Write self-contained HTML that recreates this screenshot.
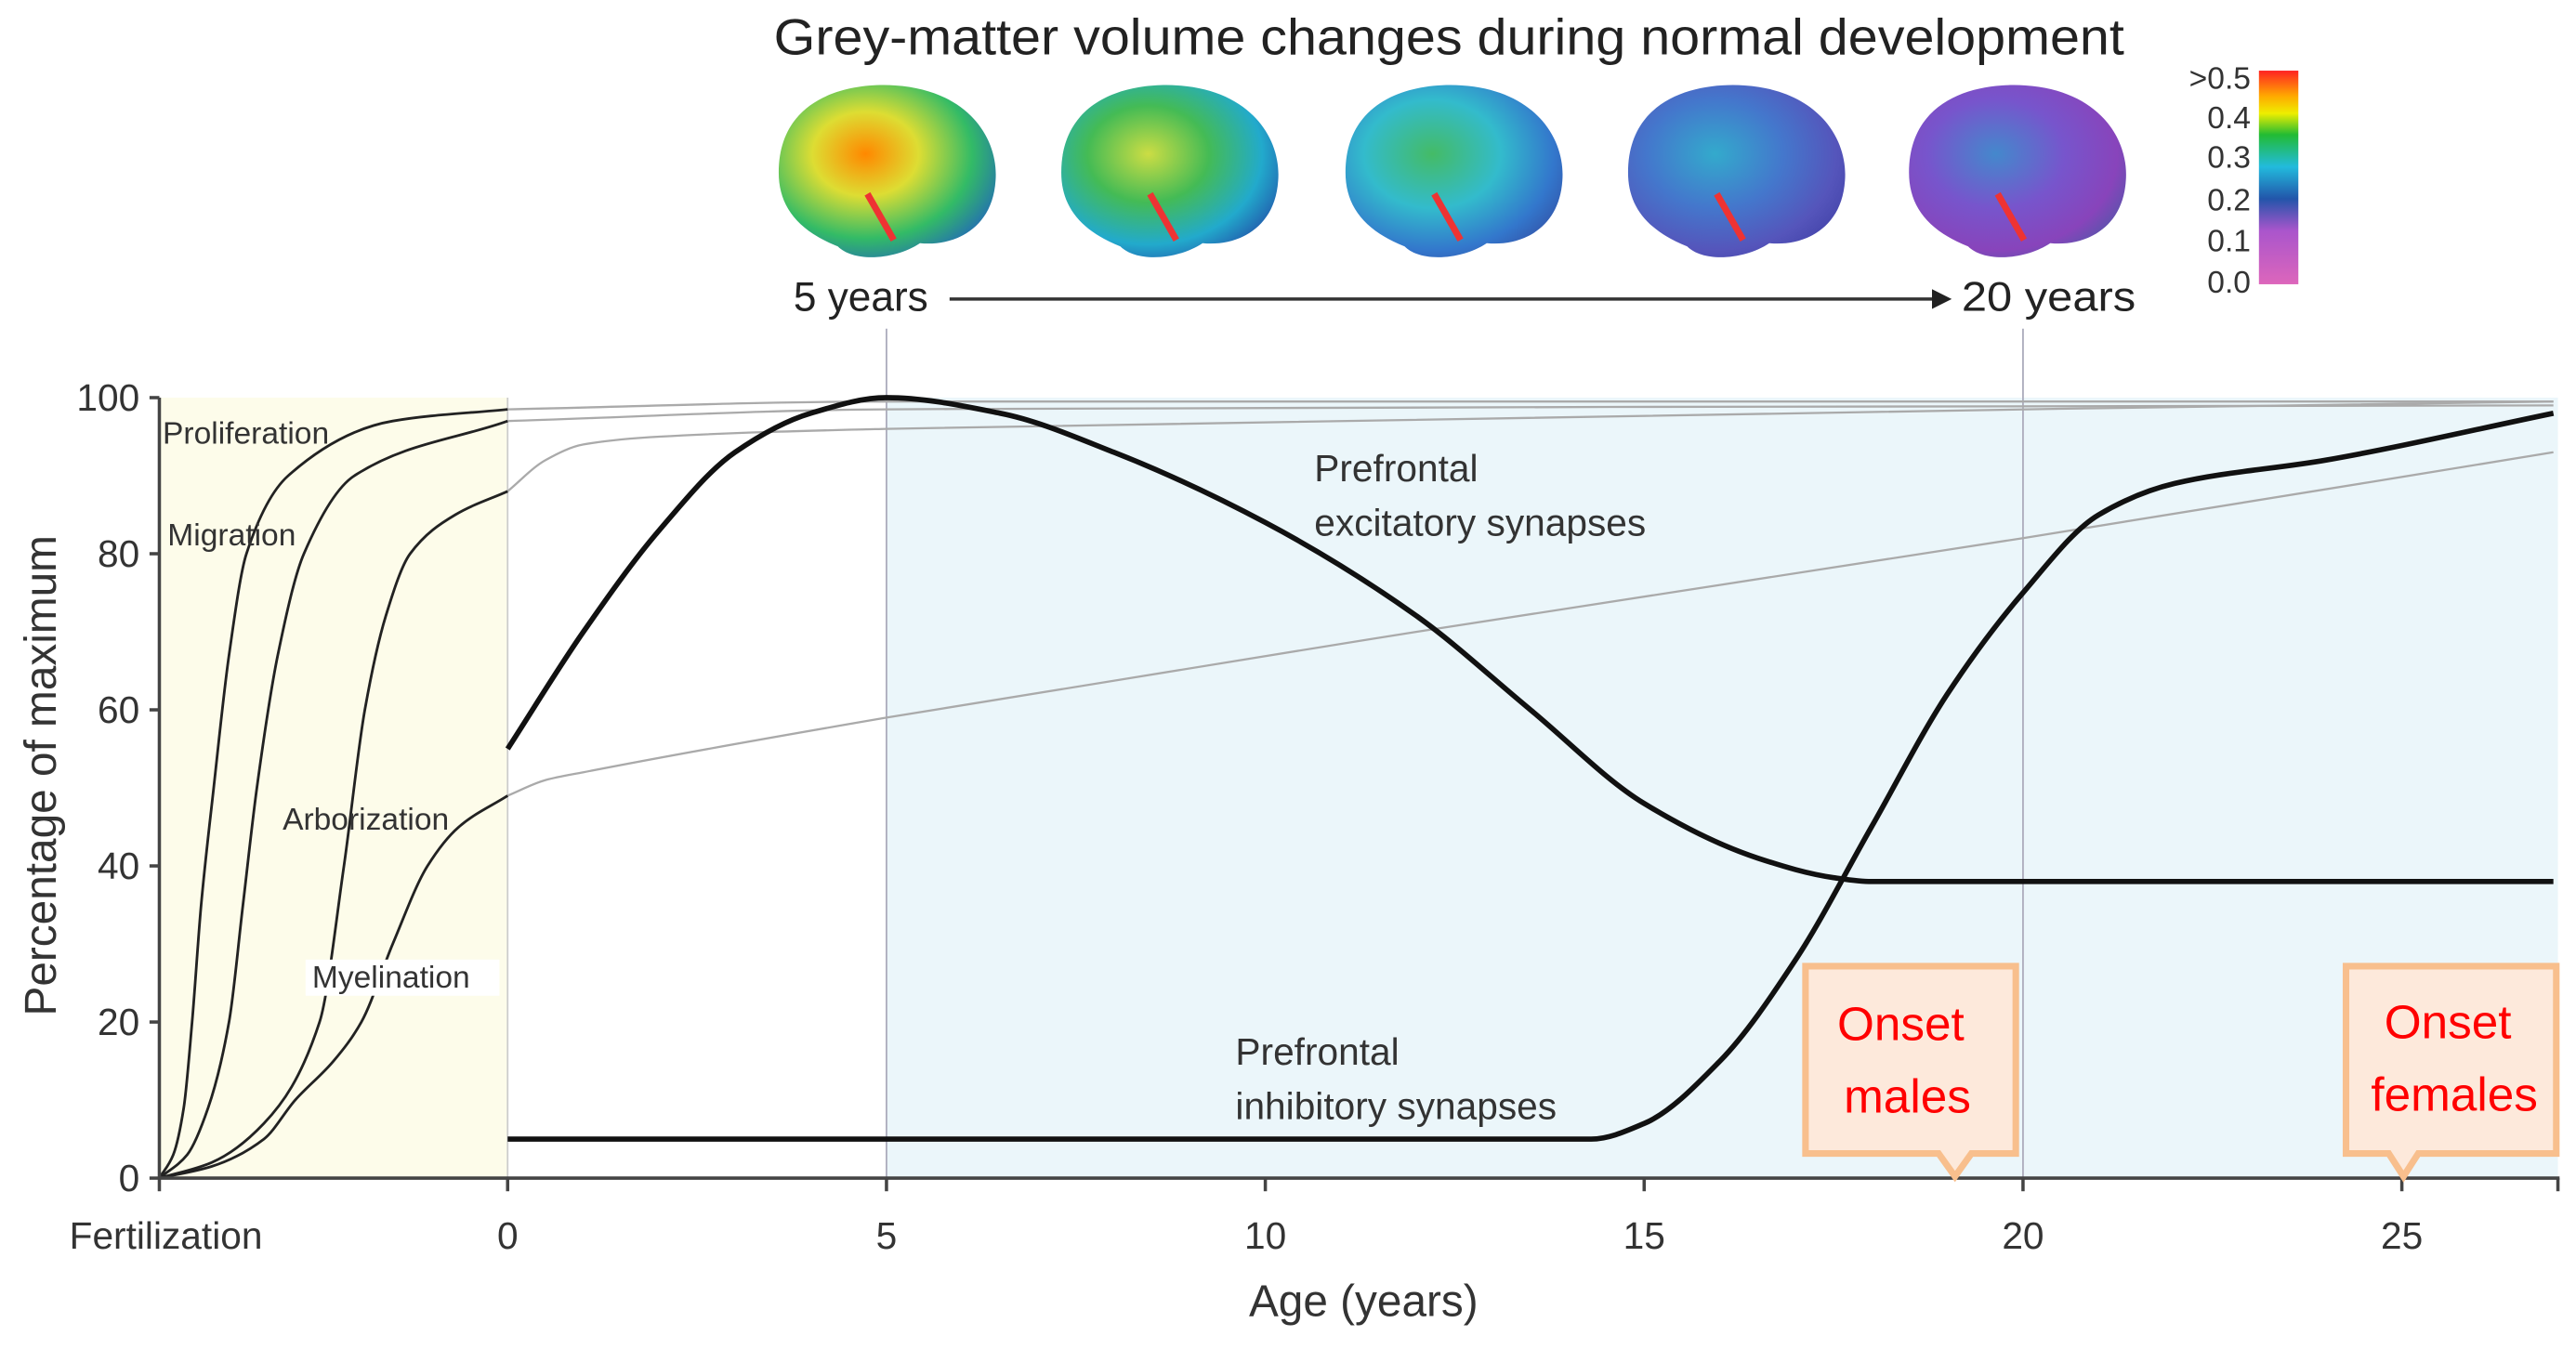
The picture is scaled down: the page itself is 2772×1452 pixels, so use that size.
<!DOCTYPE html>
<html><head><meta charset="utf-8"><style>
html,body{margin:0;padding:0;background:#fff;}
svg{display:block;}
text{font-family:"Liberation Sans",sans-serif;}
</style></head><body>
<svg id="chart" width="2772" height="1452" viewBox="0 0 1568 821" preserveAspectRatio="none" xmlns="http://www.w3.org/2000/svg">
<defs>
<linearGradient id="cbar" x1="0" y1="0" x2="0" y2="1">
<stop offset="0" stop-color="#f22"/><stop offset="0.12" stop-color="#fa0"/><stop offset="0.2" stop-color="#ee0"/><stop offset="0.3" stop-color="#2b3"/><stop offset="0.45" stop-color="#2bd"/><stop offset="0.6" stop-color="#25a"/><stop offset="0.75" stop-color="#a5c"/><stop offset="1" stop-color="#d6b"/>
</linearGradient>
<radialGradient id="b0" cx="0.4" cy="0.4" r="0.7"><stop offset="0" stop-color="#f80"/><stop offset="0.35" stop-color="#dd3"/><stop offset="0.7" stop-color="#3b6"/><stop offset="1" stop-color="#26b"/></radialGradient>
<radialGradient id="b1" cx="0.4" cy="0.4" r="0.7"><stop offset="0" stop-color="#cd4"/><stop offset="0.4" stop-color="#4b5"/><stop offset="0.75" stop-color="#2ac"/><stop offset="1" stop-color="#25a"/></radialGradient>
<radialGradient id="b2" cx="0.4" cy="0.4" r="0.7"><stop offset="0" stop-color="#4b6"/><stop offset="0.45" stop-color="#3bc"/><stop offset="0.8" stop-color="#37c"/><stop offset="1" stop-color="#35a"/></radialGradient>
<radialGradient id="b3" cx="0.4" cy="0.4" r="0.7"><stop offset="0" stop-color="#3ac"/><stop offset="0.45" stop-color="#47c"/><stop offset="0.8" stop-color="#55b"/><stop offset="1" stop-color="#44a"/></radialGradient>
<radialGradient id="b4" cx="0.4" cy="0.4" r="0.7"><stop offset="0" stop-color="#48c"/><stop offset="0.45" stop-color="#75c"/><stop offset="0.8" stop-color="#84b"/><stop offset="1" stop-color="#55a"/></radialGradient>
</defs>

<text x="882" y="33" text-anchor="middle" font-size="31" fill="#222" textLength="822" lengthAdjust="spacingAndGlyphs">Grey-matter volume changes during normal development</text>
<g id="brains"></g>
<rect x="1375" y="43" width="24" height="130" fill="url(#cbar)"/>
<g font-size="19" fill="#333" text-anchor="end">
<text x="1370" y="54">&gt;0.5</text><text x="1370" y="78">0.4</text><text x="1370" y="102">0.3</text><text x="1370" y="128">0.2</text><text x="1370" y="153">0.1</text><text x="1370" y="178">0.0</text>
</g>
<text x="483" y="189" font-size="25" fill="#222">5 years</text>
<line x1="578" y1="182" x2="1178" y2="182" stroke="#333" stroke-width="2"/>
<polygon points="1176,176 1188,182 1176,188" fill="#222"/>
<text x="1194" y="189" font-size="25" fill="#222" textLength="106" lengthAdjust="spacingAndGlyphs">20 years</text>

<g id="plot"></g>

<g>
<path d="M1099,588 H1227 V702 H1200 L1190,716 L1180,702 H1099 Z" fill="#fde9db" stroke="#f8bf8d" stroke-width="4"/>
<text x="1157" y="633" text-anchor="middle" font-size="29" fill="#f00" font-family="Liberation Sans Narrow, Liberation Sans, sans-serif">Onset</text>
<text x="1161" y="677" text-anchor="middle" font-size="29" fill="#f00" font-family="Liberation Sans Narrow, Liberation Sans, sans-serif">males</text>
</g>
<g>
<path d="M1428,588 H1556 V702 H1472 L1463,716 L1454,702 H1428 Z" fill="#fde9db" stroke="#f8bf8d" stroke-width="4"/>
<text x="1490" y="632" text-anchor="middle" font-size="29" fill="#f00" font-family="Liberation Sans Narrow, Liberation Sans, sans-serif">Onset</text>
<text x="1494" y="676" text-anchor="middle" font-size="29" fill="#f00" font-family="Liberation Sans Narrow, Liberation Sans, sans-serif">females</text>
</g>
</svg>
<script>
// ---- data ----
const yTicks = [0,20,40,60,80,100];
const xTicks = [0,5,10,15,20,25];
// prenatal curves: fraction of gestation (0=fertilization,1=birth) vs percent
const prolifP = [0,0.04,0.07,0.094,0.12,0.156,0.2,0.25,0.37,0.67,1];
const prolifV = [0,3,9,20,35,50,67,80,90,97,98.5];
const migrP = [0,0.08,0.14,0.2,0.24,0.28,0.34,0.415,0.56,1];
const migrV = [0,3,9,20,35,50,67,80,90,97];
const arborP = [0,0.15,0.3,0.46,0.53,0.59,0.65,0.72,0.85,1];
const arborV = [0,2,7,20,40,60,72,80,85,88];
const myelP = [0,0.15,0.3,0.39,0.5,0.58,0.67,0.77,0.86,1];
const myelV = [0,1.5,5,10,15,20,30,40,45,49];
// postnatal grey continuations (age years vs percent)
const prolifPostT = [0,5,27];  const prolifPostV = [98.5,99.5,99.5];
const migrPostT = [0,5,27];    const migrPostV = [97,98.5,99];
const arborPostT = [0,0.5,1,2,5,27]; const arborPostV = [88,92,94,95,96,99.5];
const myelPostT = [0,0.5,1,5,12,20,27]; const myelPostV = [49,51,52,59,70,82,93];
// prefrontal synapses
const excT = [0,1,2,3,4,5,6.5,8,10,12,13.5,15,16.5,17.5,18,27];
const excV = [55,70,83,93,98,100,98,93,84,72,60,48,41,38.5,38,38];
const inhT = [0,14.3,15,16,17,18,19,20,21,22,24,27];
const inhV = [5,5,7,15,28,45,62,75,85,89,92,98];

// ---- scales ----
const X = t => 309 + t*46.12;
const Xp = p => 97 + p*212;
const Y = v => 717 - v*4.75;
const NS='http://www.w3.org/2000/svg';
const plot=document.getElementById('plot');
function el(tag,attrs,parent){const e=document.createElementNS(NS,tag);for(const k in attrs)e.setAttribute(k,attrs[k]);(parent||plot).appendChild(e);return e;}
// monotone cubic interpolation (Fritsch-Carlson)
function smooth(pts){
 const n=pts.length;const dx=[],s=[];
 for(let i=0;i<n-1;i++){dx[i]=pts[i+1][0]-pts[i][0];s[i]=(pts[i+1][1]-pts[i][1])/dx[i];}
 const m=[s[0]];
 for(let i=1;i<n-1;i++){ if(s[i-1]*s[i]<=0) m[i]=0; else {const w1=2*dx[i]+dx[i-1],w2=dx[i]+2*dx[i-1];m[i]=(w1+w2)/(w1/s[i-1]+w2/s[i]);} }
 m[n-1]=s[n-2];
 let d='M'+pts[0][0].toFixed(2)+','+pts[0][1].toFixed(2);
 for(let i=0;i<n-1;i++){const h=dx[i]/3;
  d+=' C'+(pts[i][0]+h).toFixed(2)+','+(pts[i][1]+m[i]*h).toFixed(2)+' '+(pts[i+1][0]-h).toFixed(2)+','+(pts[i+1][1]-m[i+1]*h).toFixed(2)+' '+pts[i+1][0].toFixed(2)+','+pts[i+1][1].toFixed(2);}
 return d;}

// backgrounds
let r=el('rect',{x:Xp(0),y:Y(100),width:X(0)-Xp(0),height:Y(0)-Y(100),fill:'#fdfcea'});


r=el('rect',{x:X(5),y:Y(100),width:1557-X(5),height:Y(0)-Y(100),fill:'#ebf6fa'});


let l=el('line',{x1:X(0),y1:Y(100),x2:X(0),y2:Y(0),stroke:'#ccc','stroke-width':1});


l=el('line',{x1:X(5),y1:200,x2:X(5),y2:Y(0),stroke:'#aab','stroke-width':1});


l=el('line',{x1:X(20),y1:200,x2:X(20),y2:Y(0),stroke:'#aab','stroke-width':1});



// grey postnatal
[[prolifPostT,prolifPostV,'proliferation-postnatal'],[migrPostT,migrPostV,'migration-postnatal'],[arborPostT,arborPostV,'arborization-postnatal'],[myelPostT,myelPostV,'myelination-postnatal']].forEach(s=>{
 const p=el('path',{d:smooth(s[0].map((t,i)=>[X(t),Y(s[1][i])])),fill:'none',stroke:'#aaa','stroke-width':1.3});
 
 
});
// prenatal
[[prolifP,prolifV,'proliferation-curve'],[migrP,migrV,'migration-curve'],[arborP,arborV,'arborization-curve'],[myelP,myelV,'myelination-curve']].forEach(s=>{
 const p=el('path',{d:smooth(s[0].map((t,i)=>[Xp(t),Y(s[1][i])])),fill:'none',stroke:'#222','stroke-width':1.6});
 
 
});
// labels prenatal
[['Proliferation',99,270,'proliferation-label'],['Migration',102,332,'migration-label'],['Arborization',172,505,'arborization-label'],['Myelination',190,601,'myelination-label']].forEach(s=>{
 if(s[0]==='Myelination'){el('rect',{x:s[1]-4,y:s[2]-17,width:118,height:22,fill:'#fff'});}
 const t=el('text',{x:s[1],y:s[2],'font-size':19,fill:'#333'});t.textContent=s[0];
 
 
});
// synapses
let p=el('path',{d:smooth(excT.map((t,i)=>[X(t),Y(excV[i])])),fill:'none',stroke:'#111','stroke-width':3.2});


p=el('path',{d:smooth(inhT.map((t,i)=>[X(t),Y(inhV[i])])),fill:'none',stroke:'#111','stroke-width':3.2});


[['Prefrontal',800,293],['excitatory synapses',800,326],['Prefrontal',752,648],['inhibitory synapses',752,681]].forEach((s,i)=>{
 const t=el('text',{x:s[1],y:s[2],'font-size':23,fill:'#333'});t.textContent=s[0];
 
 
});

// axes
l=el('line',{x1:Xp(0),y1:Y(100),x2:Xp(0),y2:Y(0),stroke:'#444','stroke-width':2});


l=el('line',{x1:Xp(0),y1:Y(0),x2:1558,y2:Y(0),stroke:'#444','stroke-width':2});


yTicks.forEach(v=>{
 el('line',{x1:Xp(0)-6,y1:Y(v),x2:Xp(0),y2:Y(v),stroke:'#444','stroke-width':2});
 const t=el('text',{x:Xp(0)-12,y:Y(v)+8,'font-size':23,fill:'#333','text-anchor':'end'});t.textContent=v;
 
 
});
el('line',{x1:Xp(0),y1:Y(0),x2:Xp(0),y2:Y(0)+8,stroke:'#444','stroke-width':2});
let ft=el('text',{x:Xp(0)+4,y:760,'font-size':23,fill:'#333','text-anchor':'middle'});ft.textContent='Fertilization';


xTicks.forEach(v=>{
 el('line',{x1:X(v),y1:Y(0),x2:X(v),y2:Y(0)+8,stroke:'#444','stroke-width':2});
 const t=el('text',{x:X(v),y:760,'font-size':23,fill:'#333','text-anchor':'middle'});t.textContent=v;
 
 
});
el('line',{x1:1557,y1:Y(0),x2:1557,y2:Y(0)+8,stroke:'#444','stroke-width':2});
let xt=el('text',{x:830,y:801,'font-size':27,fill:'#333','text-anchor':'middle'});xt.textContent='Age (years)';


let yt=el('text',{x:0,y:0,'font-size':27,fill:'#333','text-anchor':'middle',transform:'translate(34,472) rotate(-90)'});yt.textContent='Percentage of maximum';



// brains
const brainsG=document.getElementById('brains');
[540,712,885,1057,1228].forEach((cx,i)=>{
 const g=el('g',{},brainsG);
 
 
 el('path',{d:'M'+(cx-66)+',105 C'+(cx-66)+',60 '+(cx-25)+',50 '+(cx+5)+',52 C'+(cx+50)+',55 '+(cx+68)+',85 '+(cx+66)+',110 C'+(cx+64)+',140 '+(cx+40)+',150 '+(cx+20)+',148 C'+(cx+5)+',158 '+(cx-20)+',160 '+(cx-30)+',150 C'+(cx-55)+',140 '+(cx-66)+',125 '+(cx-66)+',105 Z',fill:'url(#b'+i+')'},g);
 el('line',{x1:cx-12,y1:118,x2:cx+4,y2:146,stroke:'#e33','stroke-width':4},g);
});
</script>
</body></html>
